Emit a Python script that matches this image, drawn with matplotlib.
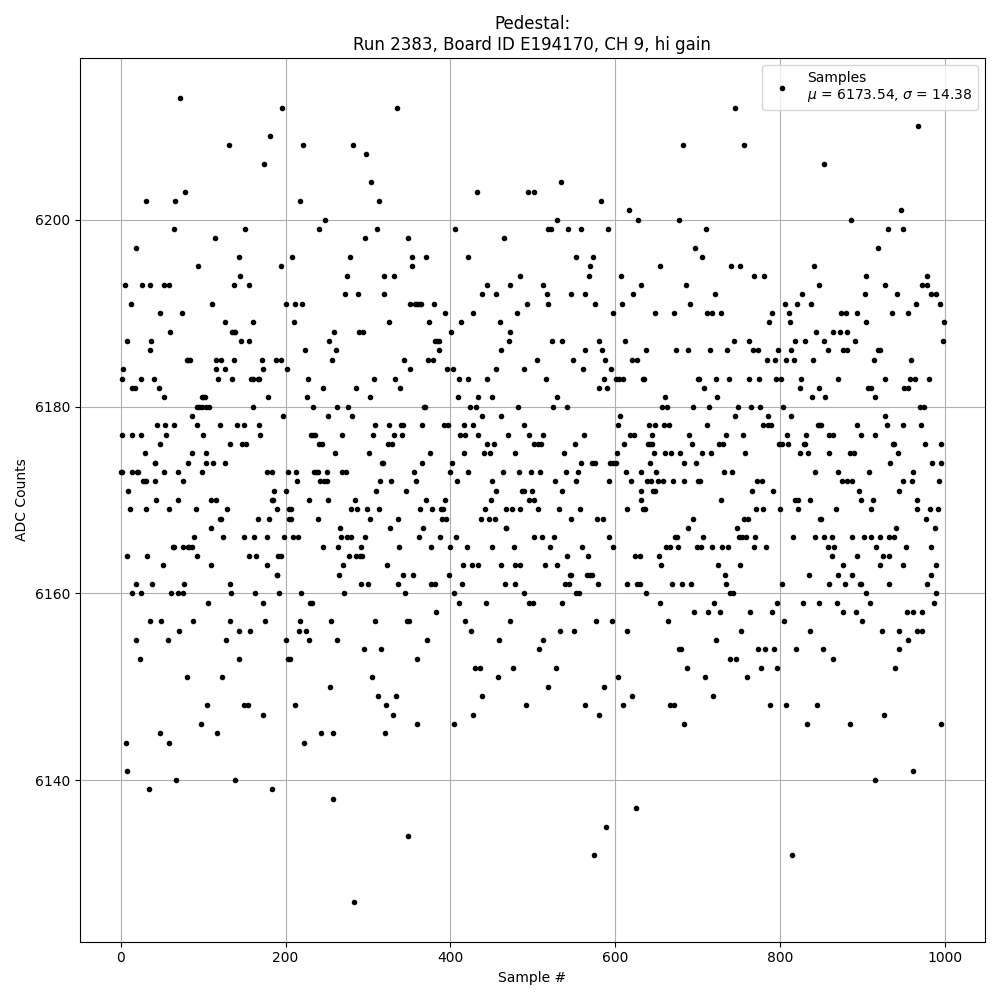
import matplotlib
matplotlib.use("Agg")
import matplotlib.pyplot as plt

# values: for each ADC level, the sample numbers sitting on it
levels_a = [6213, 6212, 6209, 6208, 6206, 6203, 6202, 6199, 6198, 6197, 6196, 6195, 6194, 6193, 6191,
            6190, 6189, 6188, 6187, 6186, 6185, 6184, 6183, 6182, 6181, 6180, 6179, 6178, 6177, 6176,
            6175, 6174, 6173, 6172, 6171, 6170, 6169, 6168, 6167, 6166, 6165, 6164, 6163, 6162, 6161,
            6160, 6159, 6157, 6156, 6155, 6153, 6151, 6148, 6147, 6146, 6145, 6144, 6141, 6140, 6139]
samples_a = [[72], [196], [181], [131], [174], [78], [30, 66], [65, 151], [114], [18], [143], [94, 194], [145],
             [5, 26, 35, 52, 59, 138, 155], [12, 111, 200], [47, 74], [127, 160], [60, 135, 137, 139],
             [8, 37, 146, 155], [35], [80, 82, 84, 115, 122, 137, 171, 188, 194], [3, 115, 126, 172, 202],
             [2, 24, 40, 118, 135, 158, 161, 166, 168], [14, 17, 46], [52, 98, 100, 102, 179],
             [93, 95, 98, 103, 107, 161], [87, 197], [44, 54, 64, 92, 120, 141, 150, 168],
             [1, 13, 25, 55, 100, 169], [47, 133, 147, 152], [29, 86, 103], [41, 42, 82, 104, 112, 126],
             [0, 2, 13, 20, 21, 53, 70, 99, 178, 183, 203], [27, 29, 31, 41, 75], [9, 186, 201],
             [43, 69, 110, 116, 184, 185], [11, 30, 58, 91, 129, 189, 204], [120, 122, 166, 180, 204], [109],
             [89, 124, 149, 162, 177, 198], [63, 65, 76, 81, 83, 86], [7, 32, 92, 156, 164, 191, 195],
             [51, 109, 177], [189, 190], [18, 38, 77, 132], [14, 24, 61, 69, 75, 134, 163, 192], [106, 173],
             [36, 49, 88, 132, 175], [71, 144, 157], [19, 57, 128, 200], [23, 143, 203], [80, 123],
             [105, 149, 154], [172], [97], [48, 117], [6, 58], [7], [67, 139], [34, 183]]

levels_b = [6212, 6208, 6207, 6204, 6202, 6200, 6199, 6198, 6196, 6195, 6194, 6192, 6191, 6190, 6189, 6188,
            6187, 6186, 6185, 6184, 6183, 6182, 6181, 6180, 6179, 6178, 6177, 6176, 6175, 6174, 6173, 6172,
            6171, 6170, 6169, 6168, 6167, 6166, 6165, 6164, 6163, 6162, 6161, 6160, 6159, 6158, 6157, 6156,
            6155, 6154, 6153, 6151, 6150, 6149, 6148, 6147, 6146, 6145, 6144, 6138, 6134, 6127]
samples_b = [[335], [221, 282], [298], [304], [217, 313], [248], [241, 311, 406], [296, 349], [208, 278, 353, 370],
             [353], [275, 319, 332], [272, 288, 319], [211, 220, 351, 357, 360, 362, 364, 380], [394],
             [210, 326, 374, 413], [259, 289, 294, 401], [253, 381, 384, 386], [224, 261, 386],
             [256, 344, 373, 379], [351, 396, 403], [227, 307, 333, 411], [245, 285, 339], [226, 302, 409],
             [233, 262, 276, 368, 369], [251, 281], [309, 326, 340, 343, 366, 392, 397, 417],
             [231, 233, 236, 268, 306, 332, 341, 412, 418], [241, 244, 324, 329], [260, 301, 375, 417],
             [317, 318, 366, 402], [213, 234, 237, 239, 250, 268, 273, 356, 400],
             [214, 242, 247, 250, 315, 328, 358, 408], [310, 346], [228, 251, 284, 370, 394],
             [207, 279, 287, 299, 313, 363, 378, 389, 391], [207, 239, 302, 336, 390, 395], [266, 327, 367],
             [209, 215, 267, 275, 279, 296, 362, 388, 407], [245, 264, 292, 338, 377, 400],
             [277, 285, 290, 293], [270, 323, 415], [265, 343, 355, 398], [292, 300, 336, 377, 381, 414],
             [219, 271, 345, 405], [230, 232, 411], [383], [217, 255, 309, 347, 350, 418], [216, 225],
             [228, 262, 372], [295, 316], [205, 360], [305], [254], [312, 334], [211, 322], [330], [360, 405],
             [243, 258, 321], [222], [258], [349], [283]]

levels_c = [6204, 6203, 6202, 6201, 6200, 6199, 6198, 6196, 6195, 6194, 6193, 6192, 6191, 6190, 6189, 6188,
            6187, 6186, 6185, 6184, 6183, 6182, 6181, 6180, 6179, 6178, 6177, 6176, 6175, 6174, 6173, 6172,
            6171, 6170, 6169, 6168, 6167, 6166, 6165, 6164, 6163, 6162, 6161, 6160, 6159, 6157, 6156, 6155,
            6154, 6152, 6151, 6150, 6149, 6148, 6147, 6137, 6135, 6132]
samples_c = [[534], [432, 494, 501], [583], [617], [529, 628], [518, 522, 543, 558, 591], [465], [422, 552, 573],
             [569], [484, 568, 607], [444, 472, 512, 632], [438, 455, 517, 546, 564, 622],
             [493, 518, 575, 608], [427, 481, 597], [460], [473], [471, 523, 536, 581, 612],
             [462, 563, 584], [505, 549, 588, 620, 626], [455, 489, 561, 595],
             [421, 445, 516, 586, 601, 605, 609, 634], [580, 590], [433, 450, 529],
             [424, 431, 482, 524, 541], [438, 461, 606], [427, 490, 603],
             [434, 470, 495, 512, 562, 618, 623], [444, 453, 502, 506, 510, 551, 611],
             [441, 448, 479, 538, 602], [558, 572, 575, 594, 598, 601],
             [421, 464, 483, 498, 509, 540, 555, 613, 632], [451, 527, 552, 592, 619],
             [456, 487, 489, 499, 535, 631], [449, 496, 501, 631],
             [442, 467, 475, 485, 506, 532, 557, 614, 634], [437, 447, 454, 547, 578, 585], [467, 468],
             [502, 511, 526, 592], [420, 450, 477, 521, 560, 598], [541, 567, 624, 630],
             [426, 433, 461, 478, 484, 515, 530], [545, 546, 566, 569, 572],
             [466, 478, 539, 544, 579, 614, 626, 630], [489, 553, 556], [443, 495, 500, 535],
             [472, 577, 596], [425, 533, 550, 615], [459, 513], [507], [430, 436, 476, 528], [458, 603],
             [519, 586], [439, 620], [492, 563, 609], [428, 580], [625], [589], [574]]

levels_d = [6212, 6208, 6200, 6199, 6197, 6196, 6195, 6194, 6193, 6192, 6191, 6190, 6189, 6188, 6187, 6186,
            6185, 6183, 6182, 6181, 6180, 6179, 6178, 6177, 6176, 6175, 6174, 6173, 6172, 6171, 6170, 6169,
            6168, 6167, 6166, 6165, 6164, 6163, 6162, 6161, 6160, 6159, 6158, 6157, 6156, 6155, 6154, 6153,
            6152, 6151, 6149, 6148, 6146, 6132]
samples_d = [[745], [682, 756], [677], [710], [697], [705], [654, 741, 751, 841], [768, 781], [686, 847], [721, 827],
             [691, 806, 821, 838], [648, 671, 711, 717, 728, 790, 811], [787, 812], [844],
             [744, 762, 818, 830], [637, 674, 688, 715, 736, 767, 773, 798, 813], [784, 794, 807, 817, 840],
             [635, 700, 702, 722, 738, 762, 775, 795, 801, 826], [708, 824, 847], [660, 724, 839],
             [657, 663, 694, 714, 749, 765, 776, 804], [745, 785, 813],
             [641, 648, 659, 665, 711, 779, 785, 789, 846], [645, 690, 734, 755, 809, 832],
             [640, 642, 645, 693, 726, 731, 799, 802, 810, 829, 830],
             [647, 660, 668, 679, 705, 716, 758, 824, 834], [642, 684, 698], [650, 732, 742, 843],
             [639, 643, 652, 658, 670, 683, 700, 703, 772, 778], [646, 649, 766, 792],
             [728, 818, 822, 836], [636, 771, 779, 800, 822], [694, 756, 761, 849], [688, 748],
             [673, 675, 707, 750, 754, 759, 770, 816, 843],
             [662, 666, 676, 699, 704, 717, 730, 737, 768, 783], [653], [656, 725, 751], [733, 835],
             [669, 681, 692, 734, 802], [637, 739, 743], [654, 720, 796, 828, 847],
             [696, 713, 727, 764, 790], [664, 805], [753, 836], [722], [677, 680, 773, 782, 793, 819],
             [739, 747], [687, 777, 796], [709, 760], [719], [666, 671, 788, 807, 845], [683, 833], [815]]

levels_e = [6210, 6206, 6201, 6200, 6199, 6197, 6194, 6193, 6192, 6191, 6190, 6189, 6188, 6187, 6186, 6185,
            6183, 6182, 6181, 6180, 6179, 6178, 6177, 6176, 6175, 6174, 6173, 6172, 6171, 6170, 6169, 6168,
            6167, 6166, 6165, 6164, 6163, 6162, 6161, 6160, 6159, 6158, 6157, 6156, 6155, 6154, 6153, 6152,
            6147, 6146, 6141, 6140]
samples_e = [[968], [853], [947], [886], [931, 950], [919], [904, 979], [927, 973, 978], [903, 942, 984, 989],
             [965, 994], [874, 880, 894, 936, 955], [904, 999], [865, 873, 881], [854, 891, 998],
             [858, 876, 882, 919, 921], [914, 959], [870, 928, 958, 964, 981], [907, 911, 951, 956],
             [855, 916], [970, 975], [927], [848, 850, 893, 930, 949, 971], [860, 864, 898, 915],
             [937, 939, 976, 995], [859, 885, 890, 943], [934, 985, 996], [870, 908, 961],
             [875, 881, 888, 949, 960, 993], [896, 945], [898, 913, 966], [868, 910, 967, 982, 992],
             [850, 977], [941, 988], [853, 863, 887, 902, 910, 921, 932, 938], [858, 866, 917, 953, 983],
             [863, 893, 925, 933], [877, 921, 949, 989], [871, 887, 983], [859, 879, 897, 899, 932, 978],
             [905, 990], [869, 909, 987], [876, 892, 954, 961, 972], [900], [924, 944, 966, 972], [955],
             [852, 944], [864], [940], [926], [885, 995], [962], [915]]

level_blocks = [levels_a, levels_b, levels_c, levels_d, levels_e]
sample_blocks = [samples_a, samples_b, samples_c, samples_d, samples_e]

sample_no = []
adc_counts = []
for levels, samples in zip(level_blocks, sample_blocks):
    for level, nums in zip(levels, samples):
        for n in nums:
            sample_no.append(n)
            adc_counts.append(level)

mean_adc = 6173.54
std_adc = 14.38

fig, ax = plt.subplots(figsize=(10, 10))
ax.plot(sample_no, adc_counts, ".", color="black",
        label=f"Samples\n$\\mu$ = {mean_adc:.2f}, $\\sigma$ = {std_adc:.2f}")
ax.set_title("Pedestal:\nRun 2383, Board ID E194170, CH 9, hi gain")
ax.set_xlabel("Sample #")
ax.set_ylabel("ADC Counts")
ax.legend(loc="upper right")
ax.grid()
fig.tight_layout()
fig.savefig("out.png", dpi=100)
